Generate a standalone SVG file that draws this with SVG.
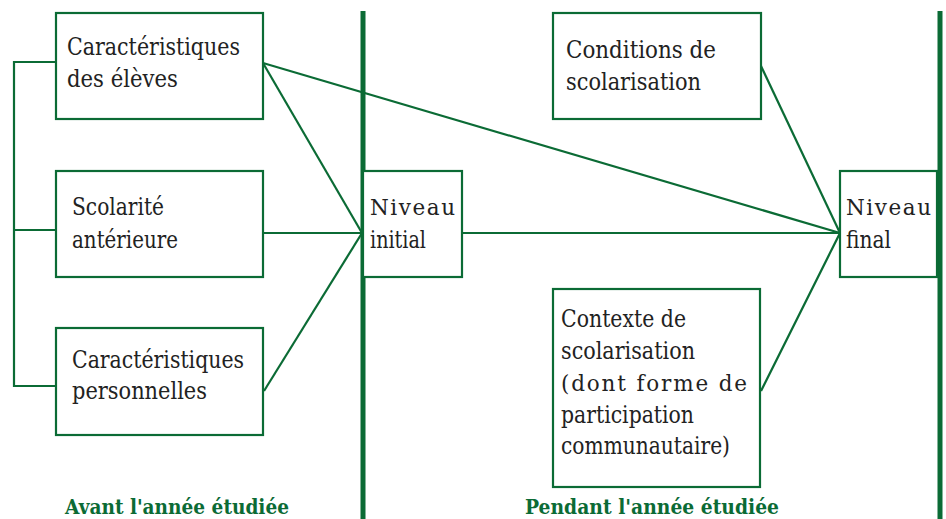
<svg xmlns="http://www.w3.org/2000/svg" width="946" height="519" viewBox="0 0 946 519">
<style>
.box{fill:#fff;stroke:#0b6b35;stroke-width:2.2}
.ln{stroke:#0b6b35;stroke-width:2.2;fill:none}
.bar{stroke:#0b6b35;stroke-width:5}
.t{font-family:"DejaVu Serif","Liberation Serif",serif;font-size:23.5px;fill:#222}
.sp{font-size:21.5px}
.h{font-family:"DejaVu Serif","Liberation Serif",serif;font-size:20px;font-weight:bold;fill:#0b6b35}
</style>
<rect width="946" height="519" fill="#fff"/>
<g id="bars">
<line class="bar" x1="363" y1="11" x2="363" y2="519"/>
<line class="bar" x1="940" y1="11" x2="940" y2="519"/>
</g>
<g id="connectors">
<polyline class="ln" points="56,62 14,62 14,386 56,386"/>
<line class="ln" x1="14" y1="230" x2="56" y2="230"/>
<line class="ln" x1="263" y1="63" x2="362" y2="233"/>
<line class="ln" x1="263" y1="233" x2="362" y2="233"/>
<line class="ln" x1="264" y1="391" x2="362" y2="233"/>
<line class="ln" x1="263" y1="63" x2="840" y2="233"/>
<line class="ln" x1="462" y1="233" x2="840" y2="233"/>
<line class="ln" x1="761" y1="66" x2="840" y2="233"/>
<line class="ln" x1="761" y1="391" x2="840" y2="233"/>
</g>
<g id="n-eleves">
<rect class="box" x="56" y="13" width="207" height="106"/>
<text class="t" x="67" y="55" textLength="173" lengthAdjust="spacingAndGlyphs">Caractéristiques</text>
<text class="t" x="67" y="87" textLength="111" lengthAdjust="spacingAndGlyphs">des élèves</text>
</g>
<g id="n-scolarite">
<rect class="box" x="56" y="171" width="207" height="106"/>
<text class="t" x="72" y="215" textLength="92" lengthAdjust="spacingAndGlyphs">Scolarité</text>
<text class="t" x="72" y="248" textLength="106" lengthAdjust="spacingAndGlyphs">antérieure</text>
</g>
<g id="n-perso">
<rect class="box" x="56" y="328" width="207" height="107"/>
<text class="t" x="72" y="368" textLength="172" lengthAdjust="spacingAndGlyphs">Caractéristiques</text>
<text class="t" x="72" y="399" textLength="135" lengthAdjust="spacingAndGlyphs">personnelles</text>
</g>
<g id="n-initial">
<rect class="box" x="363" y="171" width="99" height="106"/>
<text class="t sp" x="370" y="215" textLength="85" lengthAdjust="spacing">Niveau</text>
<text class="t" x="370" y="248" textLength="56" lengthAdjust="spacingAndGlyphs">initial</text>
</g>
<g id="n-conditions">
<rect class="box" x="553" y="13" width="208" height="106"/>
<text class="t" x="566" y="58" textLength="150" lengthAdjust="spacingAndGlyphs">Conditions de</text>
<text class="t" x="566" y="90" textLength="135" lengthAdjust="spacingAndGlyphs">scolarisation</text>
</g>
<g id="n-contexte">
<rect class="box" x="553" y="289" width="207" height="198"/>
<text class="t" x="561" y="327" textLength="125" lengthAdjust="spacingAndGlyphs">Contexte de</text>
<text class="t" x="561" y="359" textLength="134" lengthAdjust="spacingAndGlyphs">scolarisation</text>
<text class="t sp" x="561" y="391" textLength="186" lengthAdjust="spacing">(dont forme de</text>
<text class="t" x="561" y="423" textLength="133" lengthAdjust="spacingAndGlyphs">participation</text>
<text class="t" x="561" y="454" textLength="169" lengthAdjust="spacingAndGlyphs">communautaire)</text>
</g>
<g id="n-final">
<rect class="box" x="840" y="171" width="97" height="106"/>
<text class="t sp" x="846" y="215" textLength="85" lengthAdjust="spacing">Niveau</text>
<text class="t" x="846" y="248" textLength="45" lengthAdjust="spacingAndGlyphs">final</text>
</g>
<g id="labels">
<text class="h" x="65" y="514" textLength="224" lengthAdjust="spacingAndGlyphs">Avant l'année étudiée</text>
<text class="h" x="525" y="514" textLength="254" lengthAdjust="spacingAndGlyphs">Pendant l'année étudiée</text>
</g>
</svg>
